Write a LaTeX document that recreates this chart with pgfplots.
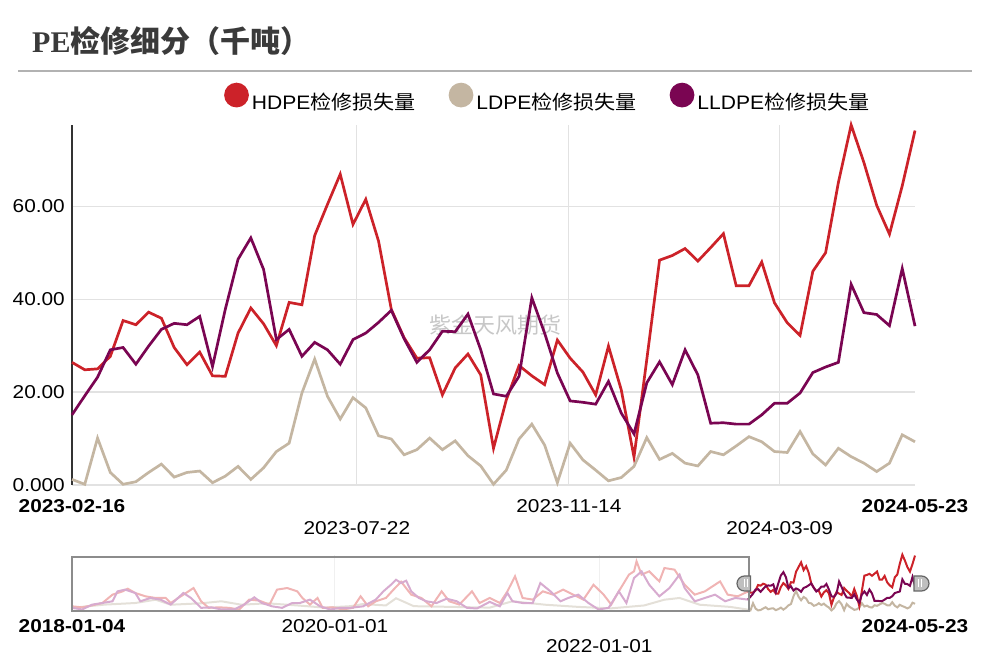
\documentclass[border=0pt]{standalone}
\usepackage{pgfplots}
\pgfplotsset{compat=1.18}
\usepackage{pgfplotstable}
\usepackage{fontspec}
\setmainfont{Liberation Sans}
\newfontfamily\tickfont{Liberation Sans}[FakeStretch=1.12]
\newfontfamily\legfont{Liberation Sans}[FakeStretch=1.08]
\newfontfamily\legcjk{Noto Sans CJK SC}[FakeStretch=1.08]
\newfontfamily\cjk{Noto Sans CJK SC}
\newfontfamily\titlelat{Liberation Serif}
\definecolor{hd}{HTML}{CC2229}
\definecolor{ld}{HTML}{C4B6A2}
\definecolor{lld}{HTML}{7A0552}
\definecolor{hdf}{HTML}{F0B4B4}
\definecolor{lldf}{HTML}{D7ABCF}
\definecolor{ldf}{HTML}{E4E0D8}
\definecolor{gridc}{HTML}{E2E2E2}
\definecolor{titlec}{HTML}{3A3A3A}

\pgfplotstableread{
i hd ld lld
0 26.4 1.2 15.1
1 24.8 0.15 19.2
2 25.0 10.1 23.2
3 27.7 2.7 29.1
4 35.4 0.15 29.6
5 34.5 0.7 26.0
6 37.2 2.7 29.9
7 35.9 4.5 33.5
8 29.6 1.7 34.8
9 25.9 2.7 34.5
10 28.6 3.0 36.3
11 23.5 0.5 25.5
12 23.4 1.9 37.8
13 32.7 4.0 48.6
14 38.1 1.2 53.2
15 34.7 3.7 46.4
16 30.0 7.2 31.3
17 39.3 9.0 33.5
18 38.8 19.8 27.7
19 53.7 27.1 30.7
20 60.4 19.1 29.1
21 66.9 14.2 26.0
22 56.1 18.8 31.3
23 61.5 16.6 32.7
24 52.5 10.6 35.0
25 37.8 9.9 37.6
26 31.7 6.5 31.5
27 27.3 7.6 26.4
28 27.4 10.1 29.1
29 19.4 7.6 33.1
30 25.2 9.5 33.0
31 28.2 6.3 36.8
32 23.7 4.1 29.1
33 7.9 0.15 19.6
34 18.3 3.2 19.1
35 25.7 9.9 23.4
36 23.5 13.1 40.3
37 21.6 8.6 32.7
38 31.2 0.5 24.1
39 27.3 9.0 18.1
40 24.3 5.4 17.8
41 19.4 3.2 17.4
42 29.9 0.9 22.3
43 20.5 1.6 15.5
44 6.0 4.0 11.0
45 27.0 10.2 22.0
46 48.4 5.5 26.5
47 49.4 6.8 21.6
48 50.9 4.7 29.1
49 48.2 4.1 23.7
50 51.1 7.2 13.3
51 54.1 6.5 13.4
52 42.9 8.4 13.1
53 42.9 10.4 13.1
54 48.0 9.3 15.1
55 39.2 7.2 17.6
56 34.9 7.0 17.6
57 32.2 11.5 19.8
58 46.0 6.7 24.2
59 50.0 4.3 25.4
60 65.1 7.9 26.4
61 77.5 6.1 43.2
62 69.4 4.7 37.1
63 60.2 2.9 36.7
64 54.0 4.7 34.3
65 64.4 10.8 46.6
66 76.3 9.3 34.2
}\maindata

\pgfplotstableread{
w v
0 5.8
4 4.4
8 7.2
12 10.4
16 22
20 26.6
22 30.3
25 24.3
29 19.7
33 17.4
37 17.4
39 10.4
42 17.4
45 24.3
48 31.2
51 12.8
54 3.7
58 4.4
62 3.7
66 1.4
70 15.1
74 13.7
78 8.2
81 29
85 31.2
89 26.6
91 17.4
94 8.2
97 17.4
99 3.7
103 4.4
107 1.4
111 3.7
114 19.7
117 5.8
120 12.8
124 17.4
127 29
130 40
134 22
138 17.4
142 5.8
146 26.6
149 12.8
153 8.2
158 26.6
161 10.4
165 17.4
169 10.4
172 26.6
175 47.5
178 17.4
182 15.1
186 26.6
190 22
194 29
198 22
202 15.1
206 35.8
210 22
213 8.2
216 26.6
220 49.8
222 54.4
223 68.3
225 49.8
228 54.4
232 40.4
234 59
238 56.7
242 35.8
246 22
250 26.6
256 40.4
259 22
263 19.7
267 26.4
}\hdhist

\pgfplotstableread{
w v
0 3.7
4 1.4
8 8.2
12 10.4
16 12.8
18 26.6
21 29
25 24.3
27 12.8
31 17.4
35 15.1
39 8.2
44 24.3
47 17.4
51 3.7
55 4.4
59 1.4
64 1.4
68 8.2
72 18.3
75 10.4
79 5.8
83 3.7
87 10.4
90 10.4
94 15.1
98 5.8
102 1.4
106 3.7
110 3.7
115 5.8
120 15.1
123 26.6
126 35.8
128 42.7
130 38.1
132 41.4
134 26.6
137 17.4
140 12.8
144 10.4
148 16.4
152 12.8
156 3.7
160 2.8
165 12
169 5.8
172 24.3
174 12.8
178 10.4
182 10.4
185 38.1
189 26.6
193 12.8
196 17.4
200 22
204 10.4
208 1.4
212 3.7
216 26.6
219 10.4
222 45.1
225 54.4
228 35.8
232 19.7
236 31.2
240 49.8
242 31.2
246 12.8
250 17.4
254 22
258 12.8
262 17.4
267 15.1
}\lldhist

\pgfplotstableread{
w v
0 3.7
13 8.2
25 10.4
33 15
39 8
51 10
59 12.8
67 8
77 10
89 7
100 4
110 6
115 9
124 7
128 17
135 6
150 5
165 4
174 12.8
187 8
200 5
213 3
226 7
234 15
240 17.4
248 8
260 5
267 1.2
}\ldhist

\begin{document}
\begin{tikzpicture}[x=1bp,y=1bp]
\useasboundingbox (0,0) rectangle (991,665);
% title
\node[anchor=base west, inner sep=0pt, text=titlec] at (32,612)
  {\fontsize{30bp}{36bp}\selectfont\titlelat\bfseries PE{\cjk\bfseries 检修细分（千吨）}};
\draw[line width=2bp, color=black!30] (18,594) -- (972,594);
% watermark
\node[text=black!22] at (495,340) {\cjk\fontsize{22bp}{26bp}\selectfont 紫金天风期货};

\begin{axis}[
  at={(72bp,180bp)}, anchor=south west, scale only axis,
  width=843bp, height=360bp,
  xmin=0, xmax=66, ymin=0, ymax=77.5,
  clip=false,
  axis lines=left, axis line style={-},
  x axis line style={draw=gridc, line width=1.5bp},
  y axis line style={draw=black!80, line width=1.5bp},
  ytick={0,20,40,60}, yticklabels={0.000,20.00,40.00,60.00},
  ymajorgrids, grid style={draw=gridc, line width=1.2bp},
  xtick={0,38.9,66},
  xticklabels={\textbf{2023-02-16},2023-11-14,\textbf{2024-05-23}},
  extra x ticks={22.3,38.9,55.4},
  extra x tick labels={2023-07-22,,2024-03-09},
  extra x tick style={grid=major, major tick length=0pt,
     tick label style={yshift=-22.7bp}},
  major tick length=0pt,
  tick label style={font=\tickfont\fontsize{18.6bp}{22bp}\selectfont, inner sep=0pt, text=black},
  xticklabel style={anchor=north, yshift=-14bp},
  yticklabel style={anchor=east, xshift=-7bp},
  legend columns=3,
  legend image code/.code={\fill[#1] (11bp,7bp) circle (11bp);},
  legend style={at={(rel axis cs:0.1805,1.078)}, anchor=west, draw=none, fill=none,
     inner sep=0pt, outer sep=0pt, nodes={inner sep=0pt},
     font=\legfont\fontsize{19.5bp}{23bp}\selectfont,
     /tikz/every odd column/.append style={column sep=3bp},
     /tikz/every even column/.append style={column sep=33bp}},
]
\addplot[hd, line width=2.7bp] table[x=i, y=hd] {\maindata};
\addlegendentry{HDPE{\legcjk 检修损失量}}
\addplot[ld, line width=2.7bp] table[x=i, y=ld] {\maindata};
\addlegendentry{LDPE{\legcjk 检修损失量}}
\addplot[lld, line width=2.7bp] table[x=i, y=lld] {\maindata};
\addlegendentry{LLDPE{\legcjk 检修损失量}}
\end{axis}

% slider
\begin{axis}[
  at={(72bp,54.5bp)}, anchor=south west, scale only axis,
  width=843bp, height=55.8bp,
  xmin=0, xmax=333, ymin=0, ymax=77.5,
  clip=false,
  axis lines=left, axis line style={draw=none},
  ytick=\empty,
  xtick={0,103.86,333},
  xticklabels={\textbf{2018-01-04},2020-01-01,\textbf{2024-05-23}},
  extra x ticks={103.86,208.29},
  extra x tick labels={,2022-01-01},
  extra x tick style={grid=major, major tick length=0pt,
     tick label style={yshift=-20bp}},
  grid style={draw=black!6, line width=1bp},
  major tick length=0pt,
  tick label style={font=\tickfont\fontsize{18.6bp}{22bp}\selectfont, inner sep=0pt, text=black},
  xticklabel style={anchor=north, yshift=-8.8bp},
]
\addplot[ldf, line width=2bp] table[x=w, y=v] {\ldhist};
\addplot[hdf, line width=2bp] table[x=w, y=v] {\hdhist};
\addplot[lldf, line width=2bp] table[x=w, y=v] {\lldhist};
\addplot[ld, line width=2bp] table[x expr=\thisrow{i}+267, y=ld] {\maindata};
\addplot[hd, line width=2bp] table[x expr=\thisrow{i}+267, y=hd] {\maindata};
\addplot[lld, line width=2bp] table[x expr=\thisrow{i}+267, y=lld] {\maindata};
\end{axis}

\draw[line width=1.5bp, draw=black!45] (72,54) rectangle (749,108);
% handles
\filldraw[fill=black!25, draw=black!60, line width=1.2bp]
  (750.5,89) -- (744.5,89) arc[start angle=90, end angle=270, radius=7.5] -- (750.5,74) -- cycle;
\draw[white, line width=1bp] (744,77.5) -- (744,85.5) (747,77.5) -- (747,85.5);
\filldraw[fill=black!25, draw=black!60, line width=1.2bp]
  (914,89) -- (921.5,89) arc[start angle=90, end angle=-90, radius=7.5] -- (914,74) -- cycle;
\draw[white, line width=1bp] (918,77.5) -- (918,85.5) (921,77.5) -- (921,85.5);
\end{tikzpicture}
\end{document}
